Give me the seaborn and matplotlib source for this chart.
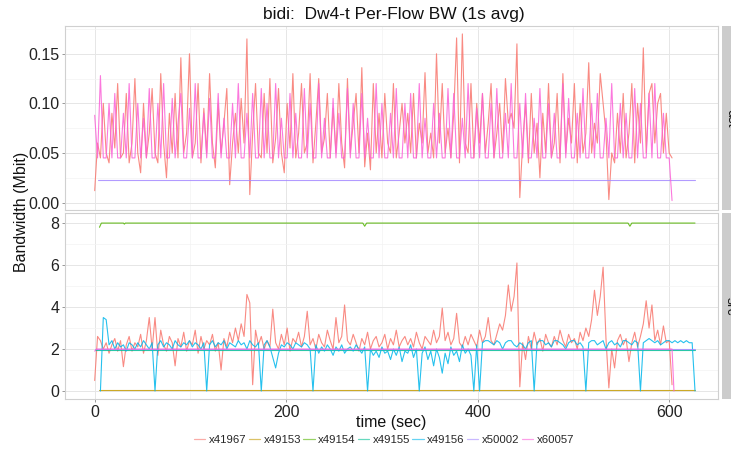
import numpy as np
import pandas as pd
import matplotlib
matplotlib.use("Agg")
import matplotlib.pyplot as plt
import seaborn as sns
from matplotlib.lines import Line2D
from matplotlib.ticker import MultipleLocator

# -----------------------------
# DATA (3 s steps for the noisy flows)
# -----------------------------
flows = ["x41967", "x49153", "x49154", "x49155", "x49156", "x50002", "x60057"]
colors = ["#F8766D", "#C49A00", "#53B400", "#00C094", "#00B6EB", "#A58AFF", "#FB61D7"]

time_3s = np.arange(0, 604, 3)          # 0 .. 603 s
time_cyan = np.arange(6, 628, 3)        # 6 .. 627 s

# dst panel
dst_x41967 = [
    0.012, 0.06, 0.045, 0.10, 0.05, 0.04, 0.09, 0.055, 0.12, 0.045,
    0.05, 0.11, 0.04, 0.06, 0.125, 0.05, 0.03, 0.10, 0.045, 0.07,
    0.115, 0.05, 0.04, 0.13, 0.06, 0.025, 0.09, 0.05, 0.11, 0.045,
    0.146, 0.05, 0.07, 0.15, 0.045, 0.06, 0.12, 0.04, 0.095, 0.05,
    0.13, 0.06, 0.035, 0.10, 0.05, 0.08, 0.115, 0.018, 0.06, 0.09,
    0.05, 0.105, 0.06, 0.165, 0.008, 0.07, 0.12, 0.05, 0.045, 0.11,
    0.05, 0.125, 0.04, 0.065, 0.115, 0.05, 0.03, 0.10, 0.055, 0.13,
    0.045, 0.07, 0.12, 0.05, 0.06, 0.13, 0.04, 0.08, 0.125, 0.05,
    0.065, 0.11, 0.045, 0.095, 0.05, 0.12, 0.06, 0.035, 0.125, 0.05,
    0.08, 0.11, 0.05, 0.136, 0.036, 0.07, 0.033, 0.12, 0.05, 0.09,
    0.045, 0.11, 0.06, 0.05, 0.12, 0.045, 0.07, 0.10, 0.06, 0.09,
    0.05, 0.11, 0.045, 0.08, 0.06, 0.131, 0.05, 0.07, 0.045, 0.15,
    0.06, 0.12, 0.05, 0.075, 0.045, 0.09, 0.166, 0.04, 0.17, 0.06,
    0.05, 0.12, 0.045, 0.10, 0.06, 0.11, 0.05, 0.08, 0.12, 0.045,
    0.07, 0.10, 0.05, 0.125, 0.08, 0.09, 0.075, 0.16, 0.005, 0.06,
    0.10, 0.04, 0.11, 0.05, 0.08, 0.025, 0.09, 0.05, 0.12, 0.045,
    0.06, 0.11, 0.04, 0.13, 0.05, 0.085, 0.06, 0.12, 0.04, 0.10,
    0.05, 0.07, 0.141, 0.05, 0.08, 0.06, 0.13, 0.10, 0.07, 0.003,
    0.05, 0.04, 0.09, 0.05, 0.11, 0.045, 0.07, 0.12, 0.04, 0.10,
    0.06, 0.156, 0.05, 0.11, 0.12, 0.06, 0.10, 0.11, 0.05, 0.09,
    0.05, 0.045,
]
dst_x60057 = [
    0.088, 0.045, 0.128, 0.045, 0.045, 0.10, 0.045, 0.11, 0.045, 0.045,
    0.09, 0.045, 0.12, 0.045, 0.045, 0.10, 0.045, 0.085, 0.045, 0.115,
    0.045, 0.045, 0.10, 0.045, 0.12, 0.045, 0.045, 0.105, 0.045, 0.08,
    0.11, 0.045, 0.045, 0.095, 0.045, 0.12, 0.045, 0.045, 0.09, 0.045,
    0.105, 0.045, 0.045, 0.11, 0.045, 0.085, 0.045, 0.045, 0.10, 0.045,
    0.12, 0.045, 0.045, 0.09, 0.045, 0.11, 0.045, 0.045, 0.115, 0.045,
    0.10, 0.045, 0.045, 0.12, 0.045, 0.085, 0.045, 0.045, 0.11, 0.045,
    0.09, 0.045, 0.045, 0.115, 0.045, 0.10, 0.045, 0.045, 0.12, 0.045,
    0.085, 0.045, 0.045, 0.105, 0.045, 0.09, 0.045, 0.045, 0.115, 0.045,
    0.10, 0.045, 0.045, 0.11, 0.045, 0.085, 0.045, 0.045, 0.12, 0.045,
    0.10, 0.045, 0.045, 0.09, 0.045, 0.115, 0.045, 0.045, 0.10, 0.045,
    0.11, 0.045, 0.045, 0.12, 0.045, 0.085, 0.045, 0.045, 0.10, 0.045,
    0.09, 0.045, 0.045, 0.115, 0.045, 0.11, 0.045, 0.045, 0.085, 0.045,
    0.12, 0.045, 0.045, 0.095, 0.045, 0.11, 0.045, 0.045, 0.10, 0.045,
    0.115, 0.045, 0.045, 0.09, 0.045, 0.12, 0.045, 0.045, 0.10, 0.045,
    0.11, 0.045, 0.045, 0.085, 0.045, 0.115, 0.045, 0.045, 0.10, 0.045,
    0.09, 0.045, 0.045, 0.12, 0.045, 0.105, 0.045, 0.045, 0.09, 0.045,
    0.115, 0.045, 0.045, 0.10, 0.045, 0.11, 0.045, 0.045, 0.085, 0.045,
    0.12, 0.045, 0.045, 0.10, 0.045, 0.09, 0.045, 0.045, 0.115, 0.045,
    0.10, 0.045, 0.045, 0.11, 0.045, 0.12, 0.045, 0.045, 0.09, 0.045,
    0.045, 0.002,
]
dst_x50002_time = [3, 627]
dst_x50002 = [0.023, 0.023]

# src panel
src_x41967 = [
    0.5, 2.6, 2.4, 2.0, 2.3, 1.8, 2.2, 2.5, 1.9, 2.4,
    1.16, 2.2, 2.6, 1.9, 2.3, 2.1, 2.7, 1.8, 2.4, 3.5,
    2.0, 3.5, 1.7, 2.9, 2.2, 1.9, 2.6, 2.3, 1.2, 2.5,
    2.1, 2.8, 1.9, 2.4, 2.2, 2.9, 1.8, 2.6, 2.0, 2.4,
    2.2, 2.7, 1.9, 2.3, 1.0, 2.5, 2.1, 2.8, 2.3, 3.0,
    2.4, 3.2, 2.6, 4.6, 4.2, 0.3, 2.9, 2.2, 2.6, 2.0,
    2.4, 2.1, 3.9, 2.3, 2.0, 2.7, 2.2, 3.0, 1.9, 2.5,
    2.3, 2.8, 2.1, 2.6, 3.8, 2.2, 2.5, 2.0, 2.7, 2.3,
    2.1, 2.9, 2.4, 2.0, 3.5, 2.3, 2.6, 4.1, 2.4, 2.2,
    2.7, 2.3, 1.9, 2.5, 2.2, 2.8, 2.0, 2.4, 2.6, 2.1,
    2.3, 2.7, 2.0, 2.5, 2.2, 2.9, 2.1, 2.4, 2.6, 2.2,
    2.5, 2.1, 2.8, 2.3, 2.0, 2.6, 2.4, 2.2, 2.9, 2.3,
    2.6, 3.95, 2.4, 2.8, 2.2, 2.5, 3.7, 2.3, 2.1, 2.6,
    2.2, 2.7, 2.4, 2.1, 2.9, 2.3, 2.6, 3.5, 2.4, 2.2,
    2.7, 3.2, 2.9, 3.6, 5.05, 3.8, 4.5, 6.1, 0.2, 2.3,
    1.5, 2.6, 2.0, 2.8, 2.2, 2.5, 1.9, 2.7, 2.3, 2.1,
    2.6, 2.2, 2.9, 2.4, 2.1, 2.7, 2.3, 2.5, 2.0, 2.8,
    2.4, 3.0, 2.6, 3.4, 4.8, 3.6, 4.5, 5.9, 2.5, 0.15,
    2.0, 1.1, 2.4, 2.7, 2.2, 2.5, 1.4, 2.3, 2.8, 2.1,
    2.6, 3.2, 4.3, 3.0, 4.1, 2.4, 2.9, 2.2, 3.1, 2.3,
    2.4, 0.3,
]
src_x49156 = [
    0.0, 3.5, 3.4, 2.2, 2.4, 2.0, 2.3, 2.1, 2.2, 1.9,
    2.3, 2.2, 2.0, 2.3, 2.1, 2.4, 2.2, 2.0, 2.3, 0.0,
    2.2, 2.4, 2.1, 2.3, 2.2, 2.0, 2.4, 2.2, 2.1, 2.3,
    2.2, 2.4, 2.1, 2.3, 2.2, 2.0, 2.3, 0.0, 2.2, 2.4,
    2.1, 2.3, 2.2, 2.4, 2.0, 2.3, 2.2, 2.1, 2.4, 2.2,
    2.3, 2.0, 2.4, 2.2, 2.1, 2.3, 0.0, 2.2, 2.4, 2.1,
    1.6, 1.1, 1.8, 2.2, 2.1, 2.3, 2.2, 2.0, 2.3, 2.2,
    2.1, 2.3, 2.2, 2.0, 0.0, 2.2, 1.8, 2.1, 1.9, 2.2,
    2.0, 1.7, 2.1, 1.9, 2.2, 1.8, 2.0, 2.1, 1.9, 2.2,
    2.0, 1.8, 2.1, 0.0, 2.0, 1.7, 1.9, 1.6, 2.1, 1.8,
    1.9, 1.5, 2.0, 1.7, 2.1, 1.4, 1.9, 1.8, 2.2, 1.6,
    2.0, 0.0, 1.8, 2.1, 1.5, 1.9, 1.2, 2.0, 1.6, 0.85,
    1.8, 1.3, 2.1, 1.7, 1.9, 1.4, 2.2, 1.8, 2.0, 1.7,
    0.0, 2.2, 0.0, 2.3, 2.4, 2.4, 2.3, 2.2, 2.4, 2.3,
    2.0, 2.3, 2.4, 2.4, 2.2, 2.1, 2.3, 2.2, 2.0, 2.3,
    2.4, 0.0, 2.3, 2.4, 2.4, 2.2, 2.3, 2.1, 2.4, 2.4,
    2.3, 2.2, 2.0, 2.3, 2.4, 2.4, 2.2, 2.3, 2.1, 0.0,
    2.3, 2.4, 2.4, 2.2, 2.3, 2.4, 2.0, 2.3, 2.4, 2.2,
    2.3, 2.1, 2.4, 2.4, 2.3, 2.2, 2.4, 2.3, 0.0, 2.3,
    2.4, 2.5, 2.4, 2.3, 2.4, 2.2, 2.3, 2.4, 2.4, 2.3,
    2.4, 2.3, 2.4, 2.3, 2.4, 2.3, 2.3, 0.0,
]
src_x49154_time = [5, 7, 30, 31, 32, 280, 282, 284, 557, 559, 561, 627]
src_x49154 = [7.8, 8.0, 8.0, 7.95, 8.0, 8.0, 7.85, 8.0, 8.0, 7.85, 8.0, 8.0]
src_x49153_time = [5, 627]
src_x49153 = [0.05, 0.05]
src_x49155_time = [0, 627]
src_x49155 = [1.97, 1.97]
src_x50002_time = [0, 627]
src_x50002 = [1.99, 1.99]
src_x60057_time = [0, 2, 603, 605]
src_x60057 = [1.9, 2.0, 2.0, 0.0]

# -----------------------------
# LONG TABLE FOR SEABORN
# -----------------------------
parts = []


def add(panel, flow, t, v):
    parts.append(pd.DataFrame({"time": t, "bw": v, "flow": flow, "panel": panel}))


add("dst", "x41967", time_3s, dst_x41967)
add("dst", "x50002", dst_x50002_time, dst_x50002)
add("dst", "x60057", time_3s, dst_x60057)
add("src", "x41967", time_3s, src_x41967)
add("src", "x49153", src_x49153_time, src_x49153)
add("src", "x49154", src_x49154_time, src_x49154)
add("src", "x49155", src_x49155_time, src_x49155)
add("src", "x49156", time_cyan, src_x49156)
add("src", "x50002", src_x50002_time, src_x50002)
add("src", "x60057", src_x60057_time, src_x60057)
df = pd.concat(parts, ignore_index=True)

palette = dict(zip(flows, colors))

# -----------------------------
# FIGURE
# -----------------------------
sns.set_theme(style="white")
plt.rcParams["font.family"] = ["Liberation Sans", "DejaVu Sans"]

W, H = 731, 454
fig = plt.figure(figsize=(W / 100, H / 100), dpi=100)


def px_box(x0, y0, x1, y1):
    return [x0 / W, 1 - y1 / H, (x1 - x0) / W, (y1 - y0) / H]


ax_top = fig.add_axes(px_box(65, 26, 718, 210))
ax_bot = fig.add_axes(px_box(65, 213, 718, 399))

panels = [
    (ax_top, "dst", (-0.0075, 0.178), 0.05, 0.025, "%.2f"),
    (ax_bot, "src", (-0.38, 8.48), 2, 1, "%d"),
]

for ax, name, ylim, major, minor, fmt in panels:
    sub = df[df["panel"] == name]
    order = [f for f in flows if f in sub["flow"].unique()]
    sns.lineplot(data=sub, x="time", y="bw", hue="flow", hue_order=order,
                 palette=palette, estimator=None, legend=False,
                 lw=0.8, alpha=0.85, ax=ax)
    ax.set_xlim(-31, 651)
    ax.set_ylim(*ylim)
    ax.xaxis.set_major_locator(MultipleLocator(200))
    ax.xaxis.set_minor_locator(MultipleLocator(100))
    ax.yaxis.set_major_locator(MultipleLocator(major))
    ax.yaxis.set_minor_locator(MultipleLocator(minor))
    ax.yaxis.set_major_formatter(matplotlib.ticker.FormatStrFormatter(fmt))
    ax.grid(which="major", color="#E6E6E6", lw=0.7)
    ax.grid(which="minor", color="#F3F3F3", lw=0.5)
    ax.set_axisbelow(True)
    for s in ax.spines.values():
        s.set_color("#D0D0D0")
        s.set_linewidth(0.8)
    ax.tick_params(axis="both", which="major", length=2.5, width=0.6,
                   color="#888888", labelsize=11.5, labelcolor="#222222",
                   left=True, bottom=True, pad=1.5)
    ax.tick_params(which="minor", length=0)
    ax.set_xlabel("")
    ax.set_ylabel("")

    # facet strip on the right, cut by the figure edge as in the reference
    y0 = 26 if name == "dst" else 213
    y1 = 210 if name == "dst" else 399
    sax = fig.add_axes(px_box(722, y0, 760, y1))
    sax.set_facecolor("#CCCCCC")
    sax.set_xticks([])
    sax.set_yticks([])
    for s in sax.spines.values():
        s.set_visible(False)
    sax.text(9 / 38, 0.5, name, rotation=-90, ha="center", va="center",
             fontsize=10, color="#1A1A1A", transform=sax.transAxes)

ax_top.tick_params(axis="x", labelbottom=False, length=0)

fig.text(394 / W, 1 - 14 / H, "bidi:  Dw4-t Per-Flow BW (1s avg)",
         ha="center", va="center", fontsize=12.5, color="#111111")
fig.text(22 / W, 1 - 212 / H, "Bandwidth (Mbit)", rotation=90,
         ha="center", va="center", fontsize=11.5, color="#111111")
fig.text(391 / W, 1 - 423 / H, "time (sec)",
         ha="center", va="center", fontsize=11.5, color="#111111")

handles = [Line2D([0], [0], color=c, lw=0.9, alpha=0.6) for c in colors]
fig.legend(handles, flows, loc="center", bbox_to_anchor=(384 / W, 1 - 440 / H),
           ncol=7, frameon=False, fontsize=8.2, handlelength=1.0,
           handletextpad=0.3, columnspacing=0.2)

fig.savefig("out.png", dpi=100)
